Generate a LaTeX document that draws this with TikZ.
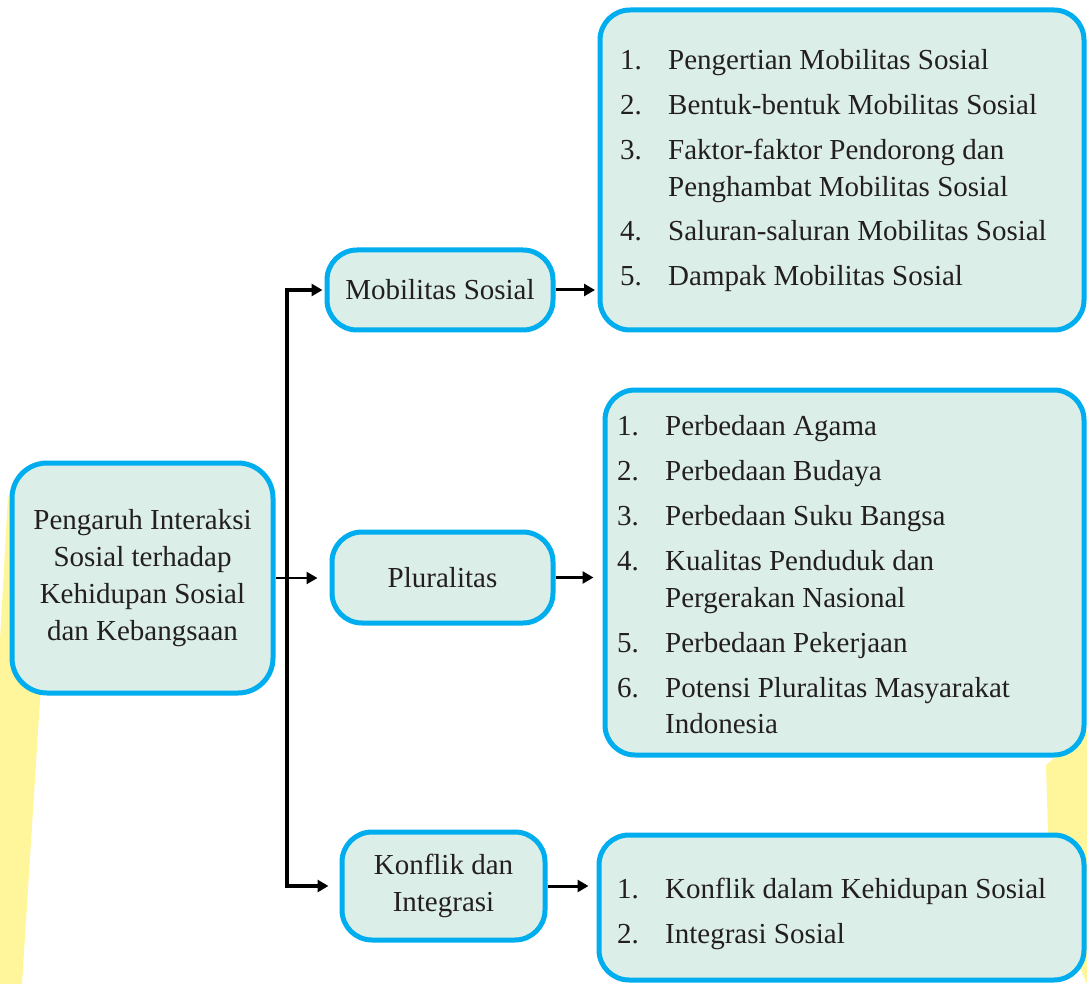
\documentclass[tikz,border=0pt]{standalone}
\usepackage{fontspec}
\setmainfont{Liberation Serif}
\usetikzlibrary{arrows.meta}
\definecolor{cyanb}{RGB}{0,174,239}
\definecolor{mint}{RGB}{220,238,232}
\definecolor{ink}{RGB}{35,31,32}
\definecolor{ylw}{RGB}{255,246,155}
\tikzset{
  box/.style={draw=cyanb, line width=5pt, fill=mint, rounded corners=30pt, inner sep=0pt, text=ink, align=center,
    font=\fontsize{29}{37}\selectfont},
  itm/.style={anchor=base west, inner sep=0pt, text=ink, font=\fontsize{29}{37}\selectfont},
  arr/.style={draw=black, line width=3pt, -{Triangle[length=11pt,width=12pt]}},
  thinarr/.style={draw=black, line width=2.5pt, -{Triangle[length=11pt,width=12pt]}},
  trunk/.style={draw=black, line width=4.5pt, line join=miter, {Triangle[length=11pt,width=12pt]}-{Triangle[length=11pt,width=12pt]}},
}
\begin{document}
\begin{tikzpicture}[x=1pt,y=-1pt]
\useasboundingbox (0,0) rectangle (1087,984);
% yellow background bands
\fill[ylw] (8,495) -- (46,650) -- (40,700) -- (22,984) -- (0,984) -- (0,640) -- cycle;
\fill[ylw] (1087,730) -- (1046,765) -- (1050,900) -- (1087,984) -- cycle;

% boxes
\node[box, minimum width=261pt, minimum height=230pt, rounded corners=35pt] (root) at (142.5,578) {Pengaruh Interaksi\\Sosial terhadap\\Kehidupan Sosial\\dan Kebangsaan};
\node[box, minimum width=226pt, minimum height=80pt] (mob) at (440,290) {Mobilitas Sosial};
\node[box, minimum width=221pt, minimum height=91pt] (plur) at (442.5,577.5) {Pluralitas};
\node[box, minimum width=203pt, minimum height=108pt] (konf) at (443.5,886) {Konflik dan\\Integrasi};

\node[box, minimum width=484pt, minimum height=320pt] (lista) at (842,170) {};
\node[box, minimum width=479pt, minimum height=365pt] (listb) at (844.5,572.5) {};
\node[box, minimum width=485pt, minimum height=145pt] (listc) at (841.5,907.5) {};

% list 1
\node[itm] (a1n) at (620,70) {1.};  \node[itm] (a1t) at (668,70) {Pengertian Mobilitas Sosial};
\node[itm] (a2n) at (620,115) {2.}; \node[itm] (a2t) at (668,115) {Bentuk-bentuk Mobilitas Sosial};
\node[itm] (a3n) at (620,160) {3.}; \node[itm] (a3t) at (668,160) {Faktor-faktor Pendorong dan};
\node[itm] (a3u) at (668,197) {Penghambat Mobilitas Sosial};
\node[itm] (a4n) at (620,241) {4.}; \node[itm] (a4t) at (668,241) {Saluran-saluran Mobilitas Sosial};
\node[itm] (a5n) at (620,286) {5.}; \node[itm] (a5t) at (668,286) {Dampak Mobilitas Sosial};

% list 2
\node[itm] (b1n) at (617,435) {1.}; \node[itm] (b1t) at (665,435) {Perbedaan Agama};
\node[itm] (b2n) at (617,480) {2.}; \node[itm] (b2t) at (665,480) {Perbedaan Budaya};
\node[itm] (b3n) at (617,525) {3.}; \node[itm] (b3t) at (665,525) {Perbedaan Suku Bangsa};
\node[itm] (b4n) at (617,570) {4.}; \node[itm] (b4t) at (665,570) {Kualitas Penduduk dan};
\node[itm] (b4u) at (665,607) {Pergerakan Nasional};
\node[itm] (b5n) at (617,652) {5.}; \node[itm] (b5t) at (665,652) {Perbedaan Pekerjaan};
\node[itm] (b6n) at (617,697) {6.}; \node[itm] (b6t) at (665,697) {Potensi Pluralitas Masyarakat};
\node[itm] (b6u) at (665,733) {Indonesia};

% list 3
\node[itm] (c1n) at (617,898) {1.}; \node[itm] (c1t) at (665,898) {Konflik dalam Kehidupan Sosial};
\node[itm] (c2n) at (617,943) {2.}; \node[itm] (c2t) at (665,943) {Integrasi Sosial};

% connectors
\coordinate (jx) at (287,0);
\draw[trunk, shorten <=2pt, shorten >=11pt] (mob.west) -- (mob.west -| jx) -- (konf.west -| jx) -- (konf.west);
\draw[thinarr, shorten >=12pt] (root.east) -- (plur.west |- root.east);
\draw[arr, shorten >=2.5pt] (mob.east) -- (lista.west |- mob.east);
\draw[arr, shorten >=9pt] (plur.east) -- (listb.west |- plur.east);
\draw[arr, shorten >=8pt] (konf.east) -- (listc.west |- konf.east);
\end{tikzpicture}
\end{document}
